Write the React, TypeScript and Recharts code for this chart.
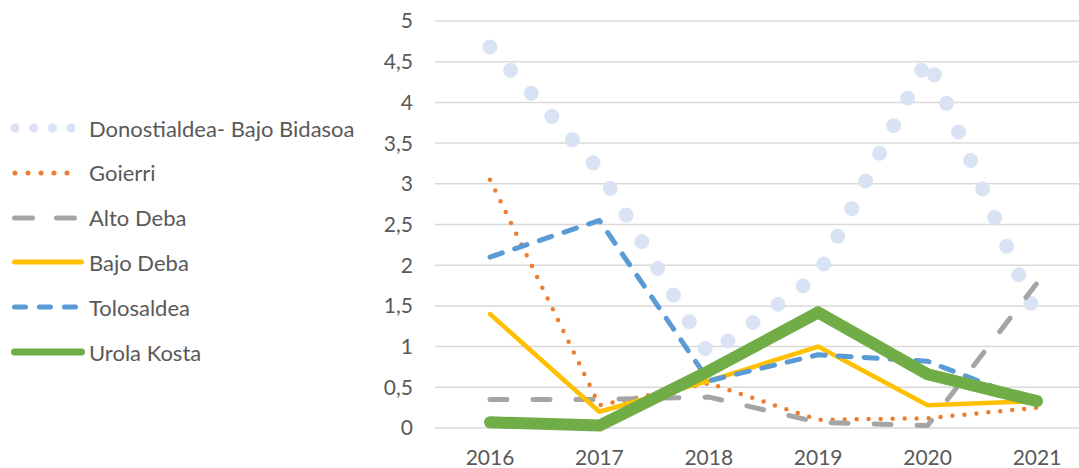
import { LineChart, Line, XAxis, YAxis, CartesianGrid } from 'recharts'

const years = ['2016', '2017', '2018', '2019', '2020', '2021']

const donostialdea = [4.68, 3.17, 0.9, 1.88, 4.54, 1.35]
const goierri = [3.05, 0.28, 0.55, 0.1, 0.12, 0.25]
const altoDeba = [0.35, 0.35, 0.38, 0.07, 0.03, 1.78]
const bajoDeba = [1.4, 0.2, 0.58, 1.0, 0.28, 0.33]
const tolosaldea = [2.1, 2.55, 0.58, 0.9, 0.82, 0.3]
const urolaKosta = [0.07, 0.03, 0.7, 1.42, 0.66, 0.33]

const yTicks = [0, 0.5, 1, 1.5, 2, 2.5, 3, 3.5, 4, 4.5, 5]

const seriesNames = [
    'Donostialdea- Bajo Bidasoa',
    'Goierri',
    'Alto Deba',
    'Bajo Deba',
    'Tolosaldea',
    'Urola Kosta'
]
const seriesValues = [donostialdea, goierri, altoDeba, bajoDeba, tolosaldea, urolaKosta]

// line styles for chart + legend samples
const styles = [
    { color: '#dae3f3', width: 15, dash: '0 31', lw: 9, ldash: '0 18.7', lx1: 15, lx2: 72 },
    { color: '#ed7d31', width: 4.5, dash: '0 12', lw: 5, ldash: '0 13', lx1: 15, lx2: 80 },
    { color: '#a5a5a5', width: 5, dash: '17 26', lw: 5, ldash: '18 24', lx1: 14.5, lx2: 75.5 },
    { color: '#ffc000', width: 4.5, dash: undefined, lw: 5, ldash: undefined, lx1: 14.5, lx2: 81.5 },
    { color: '#5b9bd5', width: 5, dash: '13 13', lw: 5, ldash: '11 14', lx1: 14.5, lx2: 75.5 },
    { color: '#70ad47', width: 12, dash: undefined, lw: 7, ldash: undefined, lx1: 14.5, lx2: 81.5 }
]

const data = years.map((year, i) => {
    const row: Record<string, string | number> = { year }
    seriesNames.forEach((name, s) => {
        row[name] = seriesValues[s][i]
    })
    return row
})

const font = 'Lato, "Open Sans", sans-serif'
const textColor = '#595959'

function Legend() {
    return (
        <div style={{ position: 'absolute', left: 0, top: 0, width: 400 }}>
            {seriesNames.map((name, i) => {
                const st = styles[i]
                return (
                    <div
                        key={name}
                        style={{
                            position: 'absolute',
                            left: 0,
                            top: 128 + i * 44.8 - 15,
                            height: 30,
                            display: 'flex',
                            alignItems: 'center',
                            whiteSpace: 'nowrap'
                        }}
                    >
                        <svg width={89} height={30}>
                            <line
                                x1={st.lx1}
                                x2={st.lx2}
                                y1={15}
                                y2={15}
                                stroke={st.color}
                                strokeWidth={st.lw}
                                strokeDasharray={st.ldash}
                                strokeLinecap="round"
                            />
                        </svg>
                        <span style={{ fontFamily: font, fontSize: 22, color: textColor }}>{name}</span>
                    </div>
                )
            })}
        </div>
    )
}

export default function App() {
    return (
        <div
            style={{
                position: 'absolute',
                left: 0,
                top: 0,
                width: 1079,
                height: 468,
                overflow: 'hidden',
                background: '#fff'
            }}
        >
            <Legend />
            <div style={{ position: 'absolute', left: 0, top: 0 }}>
                <LineChart width={1092} height={468} data={data} margin={{ top: 21, right: 0, left: 0, bottom: 0 }}>
                    <CartesianGrid vertical={false} stroke="#d9d9d9" strokeWidth={1.5} />
                    <XAxis
                        dataKey="year"
                        axisLine={false}
                        tickLine={false}
                        tickSize={0}
                        tickMargin={22}
                        height={40}
                        padding={{ left: 55, right: 55 }}
                        tick={{ fill: textColor, fontSize: 21, fontFamily: font }}
                    />
                    <YAxis
                        domain={[0, 5]}
                        ticks={yTicks}
                        width={435}
                        axisLine={false}
                        tickLine={false}
                        tickSize={0}
                        tickMargin={22}
                        tickFormatter={(v: number) => String(v).replace('.', ',')}
                        tick={{ fill: textColor, fontSize: 21, fontFamily: font }}
                    />
                    {seriesNames.map((name, i) => (
                        <Line
                            key={name}
                            type="linear"
                            dataKey={name}
                            stroke={styles[i].color}
                            strokeWidth={styles[i].width}
                            strokeDasharray={styles[i].dash}
                            strokeLinecap="round"
                            strokeLinejoin="round"
                            dot={false}
                            activeDot={false}
                            isAnimationActive={false}
                        />
                    ))}
                </LineChart>
            </div>
        </div>
    )
}
